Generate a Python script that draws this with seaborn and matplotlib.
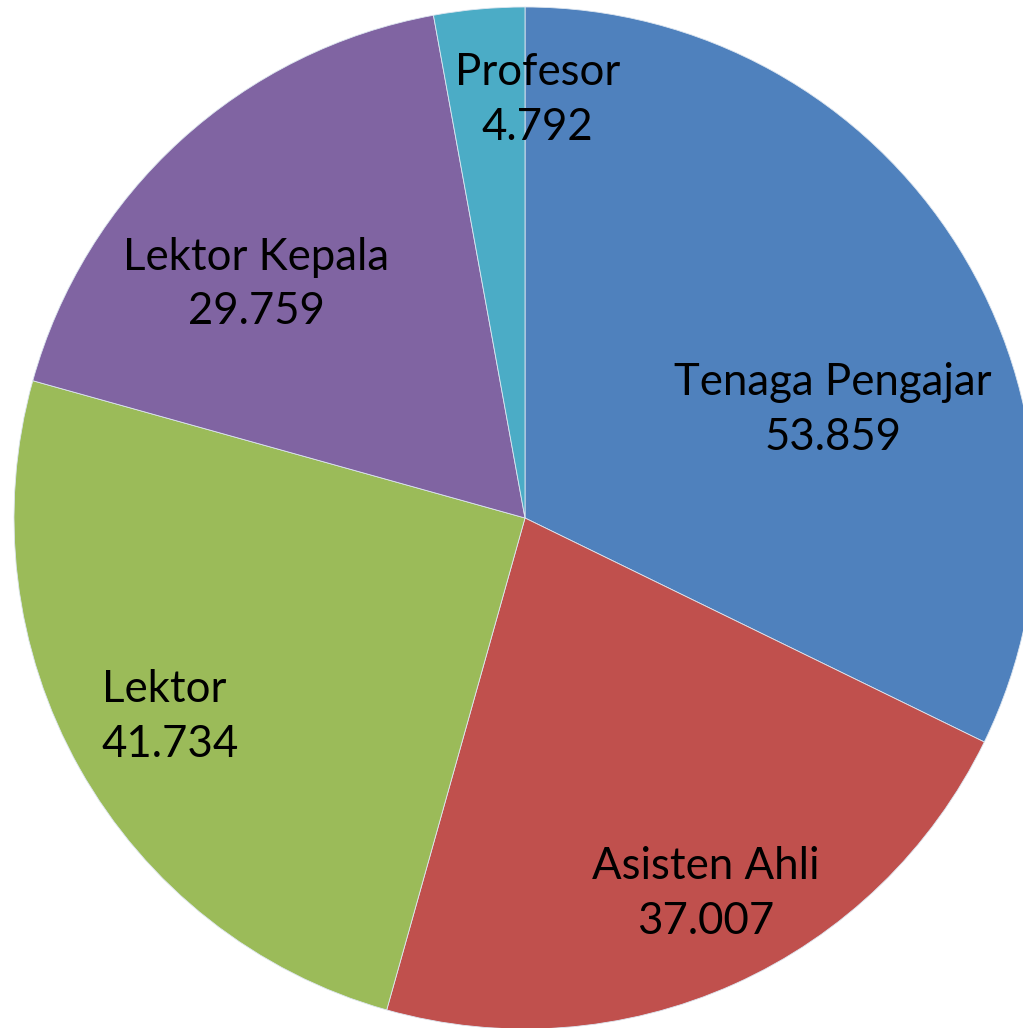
import matplotlib
matplotlib.use("Agg")
import matplotlib.pyplot as plt
import seaborn as sns

categories = ["Tenaga Pengajar", "Asisten Ahli", "Lektor", "Lektor Kepala", "Profesor"]
values = [53.859, 37.007, 41.734, 29.759, 4.792]
value_labels = ["53.859", "37.007", "41.734", "29.759", "4.792"]
colors = ["#4F81BD", "#C0504D", "#9BBB59", "#8064A2", "#4BACC6"]
# label block anchors in pie-radius units
label_pos = [(0.603, 0.211), (0.354, -0.735), (-0.828, -0.389), (-0.526, 0.457), (0.025, 0.818)]
label_align = ["center", "center", "left", "center", "center"]

sns.set_theme(style="white")
plt.rcParams["font.family"] = ["Lato", "DejaVu Sans"]

W, H, DPI = 1023, 1028, 100
fig = plt.figure(figsize=(W / DPI, H / DPI), dpi=DPI)
ax = fig.add_axes([0, 0, 1, 1])

cx, cy, R = 525, 518, 511
ax.pie(values, colors=colors, startangle=90, counterclock=False, radius=1,
       wedgeprops=dict(edgecolor="#dde6f0", linewidth=0.6))
ax.set_aspect("auto")
ax.set_xlim(-cx / R, (W - cx) / R)
ax.set_ylim(-(H - cy) / R, cy / R)
ax.axis("off")

for cat, vl, (x, y), al in zip(categories, value_labels, label_pos, label_align):
    ax.text(x, y, f"{cat}\n{vl}", ha=al, va="center", multialignment=al,
            fontsize=31.5, linespacing=1.42, color="black")

fig.savefig("out.png", dpi=DPI)
